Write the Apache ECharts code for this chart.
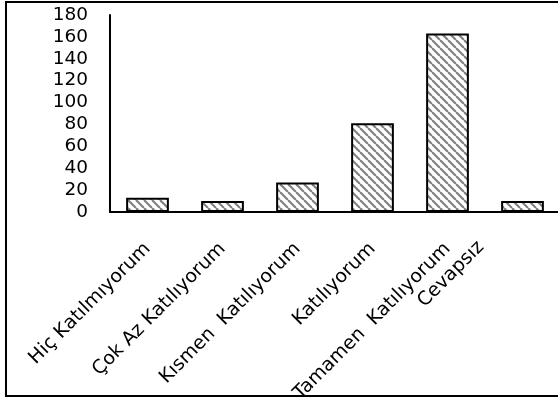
<!DOCTYPE html>
<html>
<head>
<meta charset="utf-8">
<script src="https://cdn.jsdelivr.net/npm/echarts@6/dist/echarts.min.js"></script>
<style>
html,body{margin:0;padding:0;background:#fff;overflow:hidden;}
#frame{position:absolute;left:5px;top:1px;width:560px;height:392px;border-left:2px solid #000;border-top:2px solid #000;border-bottom:2px solid #000;}
#chart{position:absolute;left:0;top:0;width:558px;height:400px;}
</style>
</head>
<body>
<div id="frame"></div>
<div id="chart"></div>
<script>
const categories = ['Hiç Katılmıyorum', 'Çok Az Katılıyorum', 'Kısmen  Katılıyorum', 'Katılıyorum', 'Tamamen  Katılıyorum', 'Cevapsız'];
const values = [13, 10, 27, 81, 163, 10];
const yTicks = [0, 20, 40, 60, 80, 100, 120, 140, 160, 180];

function hatch() {
  const c = document.createElement('canvas');
  const s = 8;
  c.width = s; c.height = s;
  const g = c.getContext('2d');
  g.fillStyle = '#fff';
  g.fillRect(0, 0, s, s);
  g.strokeStyle = '#808080';
  g.lineWidth = 2.1;
  for (const o of [-s, 0, s]) {
    g.beginPath();
    g.moveTo(o, 0);
    g.lineTo(o + s, s);
    g.stroke();
  }
  return c;
}

const catData = categories.map((c, i) => i === categories.length - 1
  ? {value: c, textStyle: {verticalAlign: 'bottom', padding: [0, 28, 21, 0]}}
  : c);

const chart = echarts.init(document.getElementById('chart'), null, {renderer: 'canvas'});
chart.setOption({
  animation: false,
  backgroundColor: 'transparent',
  grid: {left: 110, top: 15, bottom: 188, width: 450, containLabel: false, outerBoundsMode: 'none'},
  xAxis: {
    type: 'category',
    data: catData,
    axisLine: {lineStyle: {color: '#000', width: 2}},
    axisTick: {show: false},
    axisLabel: {rotate: 45, margin: 34, interval: 0, color: '#000', fontFamily: 'DejaVu Sans', fontSize: 19}
  },
  yAxis: {
    type: 'value',
    min: yTicks[0], max: yTicks[yTicks.length - 1], interval: 20,
    splitLine: {show: false},
    axisLine: {show: true, lineStyle: {color: '#000', width: 2}},
    axisTick: {show: false},
    axisLabel: {margin: 22, color: '#000', fontFamily: 'DejaVu Sans', fontSize: 18.5}
  },
  series: [{
    type: 'bar',
    data: values,
    barWidth: '57%',
    itemStyle: {color: {image: hatch(), repeat: 'repeat'}, borderColor: '#000', borderWidth: 2}
  }]
});
</script>
</body>
</html>
